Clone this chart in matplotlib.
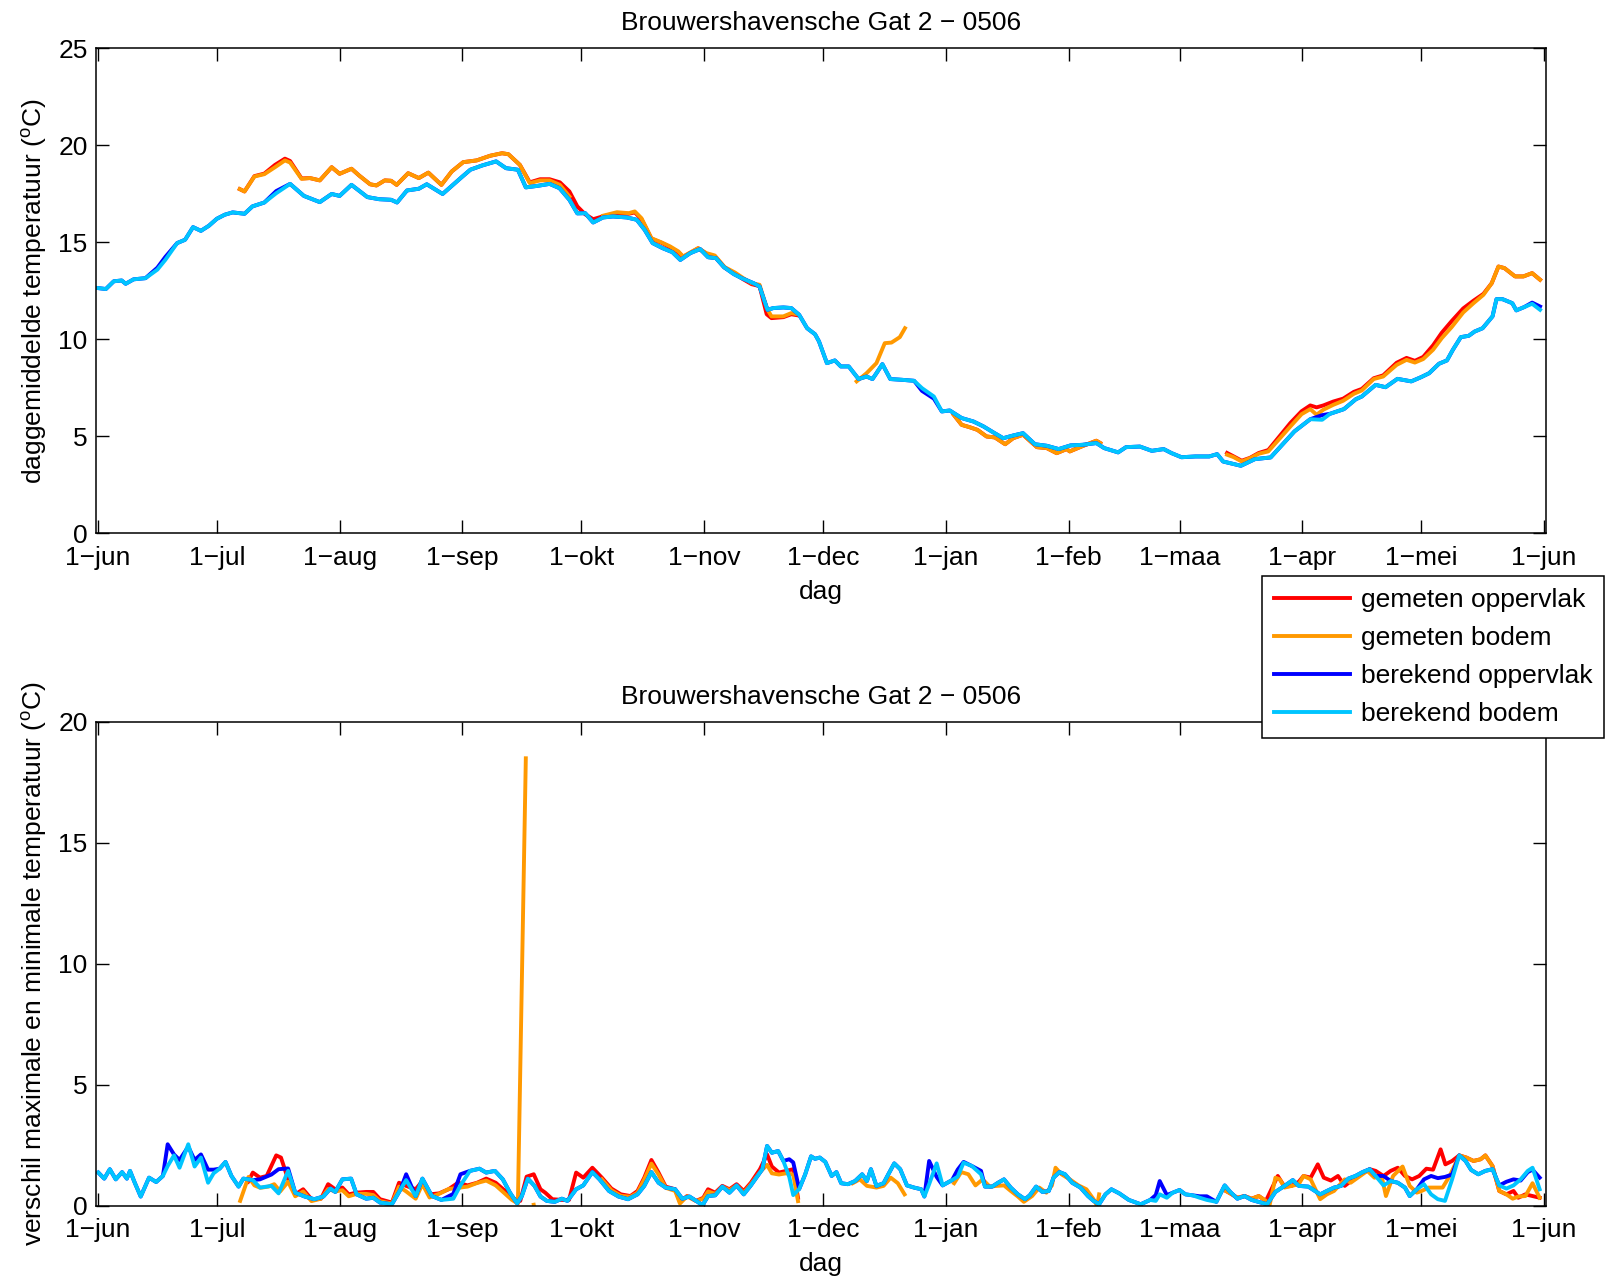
import matplotlib
matplotlib.use("Agg")
import matplotlib.pyplot as plt
import numpy as np
import pandas as pd

nan = np.nan

# ---- bovenste paneel: daggemiddelde temperatuur ----
# dagen na 1-jun-2005
dag_ber = [0, 2, 4, 6, 7, 9, 12, 15, 17, 20,
           22, 24, 26, 28, 30, 32, 34, 37, 39, 42,
           45, 48.5, 52, 56, 59, 61, 64, 68, 71, 74,
           75.5, 78, 81, 83, 87, 92, 94, 97, 100.5, 103,
           106, 108, 111, 114, 116.5, 119, 121, 123, 125, 127.5,
           130, 133.5, 136, 138, 140, 142.5, 145, 147, 149.5, 152,
           154, 156, 158, 160.5, 162.5, 165.5, 167, 169, 170.5, 173,
           175, 177, 179, 181, 182, 184, 186, 187.5, 189.5, 192,
           194, 195.5, 196.5, 198, 200, 203, 206, 208, 211, 213,
           215, 218, 221, 223.5, 226, 228.5, 231, 233.5, 236.5, 239.5,
           242.5, 245.5, 248.5, 252, 254, 257.5, 259.5, 263, 266, 269,
           271, 273.5, 277, 280.5, 282.5, 284, 286.5, 288.5, 292, 296,
           298.5, 302, 306, 309, 311, 314.5, 317.5, 319, 322.5, 325,
           328, 331.5, 334, 336, 338.5, 340.5, 342, 344, 346, 347.5,
           349.5, 352, 353, 354.5, 357, 358, 360, 362, 364]
ber_bodem = [12.65, 12.6, 13.0, 13.04, 12.87, 13.1, 13.16, 13.6, 14.1, 14.97,
             15.14, 15.79, 15.6, 15.86, 16.22, 16.43, 16.55, 16.48, 16.86, 17.06,
             17.54, 18.02, 17.4, 17.08, 17.5, 17.4, 17.97, 17.34, 17.23, 17.2,
             17.06, 17.68, 17.77, 18.0, 17.5, 18.4, 18.75, 18.97, 19.18, 18.83,
             18.75, 17.84, 17.92, 18.02, 17.8, 17.2, 16.5, 16.51, 16.03, 16.29,
             16.34, 16.29, 16.17, 15.65, 14.97, 14.71, 14.5, 14.1, 14.45, 14.66,
             14.24, 14.19, 13.73, 13.37, 13.16, 12.9, 12.73, 11.53, 11.62, 11.65,
             11.62, 11.27, 10.58, 10.27, 9.9, 8.78, 8.92, 8.61, 8.61, 7.96,
             8.09, 7.96, 8.26, 8.73, 7.96, 7.92, 7.87, 7.49, 7.06, 6.29,
             6.34, 5.95, 5.77, 5.52, 5.21, 4.91, 5.05, 5.17, 4.6, 4.52,
             4.35, 4.54, 4.57, 4.66, 4.4, 4.18, 4.45, 4.48, 4.26, 4.35,
             4.14, 3.93, 3.97, 3.97, 4.09, 3.71, 3.59, 3.49, 3.83, 3.92,
             4.48, 5.26, 5.89, 5.86, 6.17, 6.41, 6.92, 7.06, 7.66, 7.54,
             7.97, 7.84, 8.06, 8.26, 8.75, 8.92, 9.47, 10.12, 10.19, 10.41,
             10.58, 11.19, 12.08, 12.08, 11.87, 11.5, 11.67, 11.84, 11.53]
ber_opp = [12.65, 12.6, 13.0, 13.04, 12.87, 13.1, 13.16, 13.7, 14.25, 14.97,
           15.14, 15.79, 15.6, 15.86, 16.22, 16.43, 16.55, 16.48, 16.86, 17.06,
           17.65, 18.02, 17.4, 17.08, 17.5, 17.4, 17.97, 17.34, 17.23, 17.2,
           17.06, 17.68, 17.77, 18.0, 17.5, 18.4, 18.75, 18.97, 19.18, 18.83,
           18.75, 17.84, 17.92, 18.02, 17.8, 17.2, 16.5, 16.51, 16.03, 16.29,
           16.34, 16.29, 16.17, 15.65, 14.97, 14.71, 14.5, 14.1, 14.45, 14.66,
           14.24, 14.19, 13.73, 13.37, 13.16, 12.9, 12.73, 11.53, 11.62, 11.65,
           11.62, 11.27, 10.58, 10.27, 9.9, 8.78, 8.92, 8.61, 8.61, 7.96,
           8.09, 7.96, 8.26, 8.73, 7.96, 7.92, 7.87, 7.35, 6.95, 6.29,
           6.34, 5.95, 5.77, 5.52, 5.21, 4.91, 5.05, 5.17, 4.6, 4.52,
           4.35, 4.54, 4.57, 4.66, 4.4, 4.18, 4.45, 4.48, 4.26, 4.35,
           4.14, 3.93, 3.97, 3.97, 4.09, 3.71, 3.59, 3.49, 3.83, 3.92,
           4.48, 5.26, 5.89, 6.1, 6.17, 6.41, 6.92, 7.06, 7.66, 7.54,
           7.97, 7.84, 8.06, 8.26, 8.75, 8.92, 9.47, 10.12, 10.19, 10.41,
           10.58, 11.19, 12.08, 12.08, 11.87, 11.5, 11.67, 11.9, 11.7]

dag_gem = [35.8, 37, 39.5, 42, 44.7, 47.2, 48.5, 51.4, 53.5, 56,
           59, 61, 64, 66, 68.7, 70.3, 72.4, 74, 75.4, 78.3,
           81, 83.4, 86.7, 89.3, 92.2, 95.6, 99, 102, 103.6, 106.5,
           109, 111.6, 114, 116.6, 119, 121, 123, 125, 127.5, 131,
           134, 135.5, 137.2, 139.7, 142.3, 144.4, 146.5, 147.7, 151.5, 153.6,
           155.7, 158.2, 160.8, 162.9, 165, 167, 168.8, 170, 173, 175,
           176.5, 184, 191.5, 194, 196.5, 198.6, 200.3, 202.4, 203.7, 210,
           216, 218, 220, 222, 224.3, 226.4, 229, 231, 233.5, 237,
           239.5, 242, 244.5, 245.3, 248.7, 252, 253, 270, 285, 286.6,
           288.7, 290.8, 293, 295.4, 298.4, 301, 303.8, 306, 307.6, 309.3,
           311.8, 314.3, 317, 319, 322, 324.4, 327.8, 330.3, 332.4, 334.5,
           337, 339.2, 341.7, 344.6, 347.2, 349.7, 351.8, 353.5, 355, 357.7,
           359.8, 362, 364]
gem_bodem = [17.75, 17.63, 18.4, 18.52, 18.88, 19.23, 19.12, 18.28, 18.32, 18.2,
             18.88, 18.54, 18.8, 18.44, 18.0, 17.94, 18.2, 18.18, 17.97, 18.57,
             18.32, 18.6, 17.97, 18.66, 19.14, 19.23, 19.47, 19.6, 19.55, 19.0,
             18.06, 18.2, 18.2, 17.97, 17.37, nan, nan, nan, 16.38, 16.56,
             16.51, 16.6, 16.25, 15.22, 15.0, 14.8, 14.54, 14.28, 14.71, 14.45,
             14.33, 13.73, 13.45, 13.16, 12.9, 12.82, 11.62, 11.19, 11.19, 11.36,
             11.3, nan, 7.84, 8.26, 8.78, 9.81, 9.84, 10.12, 10.58, nan,
             6.12, 5.6, 5.48, 5.34, 5.0, 4.95, 4.6, 4.91, 5.09, 4.45,
             4.4, 4.14, 4.35, 4.23, 4.52, 4.78, 4.66, nan, 4.06, 3.94,
             3.71, 3.88, 4.11, 4.23, 4.92, 5.52, 6.15, 6.41, 6.12, 6.38,
             6.63, 6.84, 7.2, 7.37, 7.96, 8.09, 8.69, 8.95, 8.81, 8.99,
             9.47, 10.07, 10.64, 11.39, 11.87, 12.3, 12.9, 13.76, 13.68, 13.25,
             13.25, 13.42, 13.08]
gem_opp = [17.75, 17.63, 18.42, 18.55, 19.0, 19.32, 19.2, 18.3, 18.32, 18.2,
           18.88, 18.54, 18.8, 18.44, 18.0, 17.94, 18.2, 18.18, 17.97, 18.57,
           18.32, 18.6, 17.97, 18.66, 19.14, 19.23, 19.47, 19.6, 19.55, 19.0,
           18.1, 18.26, 18.26, 18.1, 17.63, 16.86, 16.45, 16.2, 16.35, 16.5,
           16.48, 16.55, 16.2, 15.2, 14.98, 14.75, 14.5, 14.25, 14.7, 14.42,
           14.28, 13.7, 13.4, 13.1, 12.85, 12.75, 11.3, 11.1, 11.15, 11.3,
           11.25, nan, nan, nan, nan, nan, nan, nan, nan, nan,
           6.12, 5.6, 5.48, 5.34, 5.0, 4.95, 4.6, 4.91, 5.09, 4.45,
           4.4, 4.14, 4.35, 4.23, 4.52, 4.78, 4.66, nan, 4.15, 3.98,
           3.75, 3.9, 4.15, 4.3, 5.05, 5.7, 6.3, 6.6, 6.5, 6.6,
           6.8, 6.95, 7.3, 7.45, 8.0, 8.15, 8.8, 9.05, 8.9, 9.1,
           9.7, 10.35, 10.95, 11.6, 12.0, 12.35, 12.9, 13.76, 13.68, 13.25,
           13.25, 13.42, 13.08]

# ---- onderste paneel: verschil max - min ----
dag_ber_v = [0.1, 1.6, 3, 4.5, 6.1, 7.3, 8.1, 9.3, 10.8, 12.9,
             14.7, 16.4, 17.6, 19.2, 20.6, 22.8, 24.4, 26, 27.8, 29.2,
             30.7, 32.2, 33.7, 35.5, 36.7, 39.1, 40.9, 43.8, 45.6, 48,
             49.8, 52.2, 54.6, 56.9, 58.7, 59.9, 61.7, 63.9, 65.3, 67.7,
             69.5, 71.2, 74.2, 76.4, 77.8, 80.2, 81.9, 84.3, 86.7, 89.7,
             91.5, 93.9, 96.3, 98, 100.2, 102.2, 104, 105.8, 107, 108.5,
             110.2, 111.7, 113.3, 115.3, 117.1, 118.5, 120.7, 122.5, 124.8, 126.6,
             129, 131.4, 133.8, 136.2, 137.9, 139.7, 141.5, 143.3, 145.7, 147.5,
             149.3, 151, 152.6, 154, 155.8, 157.6, 159.4, 161.2, 163, 164.8,
             166.5, 167.7, 168.9, 170.1, 171.7, 173, 174.5, 175.5, 177, 178.5,
             180, 181, 182.2, 183.6, 185.2, 186.4, 187.6, 189.3, 191.1, 192.9,
             194.1, 195.1, 196.5, 198.3, 199.5, 201, 202.5, 204.2, 206, 207.8,
             208.6, 209.8, 211.7, 213.2, 215.6, 217, 218.5, 220.6, 222.9, 223.9,
             225.7, 227.2, 228.7, 230.4, 232.2, 234, 235.2, 236.8, 238.4, 240,
             241.2, 242.7, 244.1, 245.9, 248, 249.9, 251.3, 252.7, 254.3, 255.8,
             257.8, 260.2, 263.2, 265.6, 267, 268, 269.8, 271.3, 273, 274.5,
             276.3, 278.1, 279.9, 282.3, 284.4, 285.8, 287.6, 289.4, 291.2, 293.6,
             295.1, 297.2, 299.5, 301.6, 303.1, 305.5, 308.5, 310.2, 312, 313.8,
             315.6, 317.4, 319.2, 321, 322.5, 324.5, 326.3, 328.1, 329.9, 331.1,
             332.9, 334.7, 336.5, 338.2, 340, 341.8, 343.6, 345.2, 346.6, 348.4,
             350.2, 352, 353.7, 355.5, 357.3, 359.1, 360.9, 362.1, 363.9]
v_ber_bodem = [1.38, 1.13, 1.52, 1.1, 1.4, 1.13, 1.45, 0.96, 0.39, 1.17,
               0.99, 1.24, 1.65, 2.09, 1.58, 2.55, 1.63, 2.0, 0.96, 1.35,
               1.54, 1.82, 1.24, 0.8, 1.13, 1.07, 0.76, 0.83, 0.52, 1.45,
               0.55, 0.39, 0.28, 0.39, 0.72, 0.58, 1.1, 1.13, 0.48, 0.3,
               0.34, 0.14, 0.07, 0.69, 1.07, 0.41, 1.13, 0.41, 0.25, 0.3,
               0.85, 1.45, 1.54, 1.38, 1.45, 1.1, 0.55, 0.11, 0.41, 1.13,
               0.83, 0.39, 0.21, 0.17, 0.3, 0.21, 0.69, 0.85, 1.4, 1.1,
               0.62, 0.39, 0.28, 0.48, 0.83, 1.4, 0.96, 0.76, 0.69, 0.3,
               0.39, 0.21, 0.03, 0.41, 0.44, 0.8, 0.55, 0.85, 0.48, 0.85,
               1.24, 1.52, 2.48, 2.2, 2.27, 1.86, 1.2, 0.45, 0.7, 1.3,
               2.05, 1.95, 2.0, 1.82, 1.24, 1.4, 0.94, 0.9, 1.03, 1.31,
               1.03, 1.52, 0.83, 0.94, 1.31, 1.76, 1.52, 0.85, 0.76, 0.69,
               0.39, 0.9, 1.76, 0.85, 1.07, 1.21, 1.79, 1.65, 1.31, 0.8,
               0.8, 0.96, 1.1, 0.76, 0.48, 0.28, 0.44, 0.8, 0.58, 0.62,
               1.17, 1.4, 1.31, 0.96, 0.76, 0.41, 0.21, 0.07, 0.48, 0.69,
               0.52, 0.25, 0.07, 0.25, 0.21, 0.48, 0.34, 0.55, 0.66, 0.48,
               0.44, 0.34, 0.25, 0.17, 0.85, 0.58, 0.3, 0.41, 0.25, 0.14,
               0.07, 0.58, 0.83, 1.07, 0.83, 0.8, 0.48, 0.62, 0.76, 0.83,
               1.13, 1.24, 1.4, 1.52, 1.24, 0.85, 1.03, 0.96, 0.76, 0.41,
               0.69, 0.9, 0.48, 0.28, 0.21, 1.1, 2.09, 1.86, 1.49, 1.31,
               1.45, 1.52, 0.85, 0.72, 0.85, 1.1, 1.45, 1.58, 0.69]
v_ber_opp = [1.38, 1.13, 1.52, 1.1, 1.4, 1.13, 1.45, 0.96, 0.39, 1.17,
             0.99, 1.24, 2.55, 2.13, 1.9, 2.45, 1.9, 2.13, 1.5, 1.5,
             1.54, 1.82, 1.24, 0.8, 1.13, 1.07, 1.1, 1.3, 1.52, 1.55,
             0.55, 0.39, 0.28, 0.39, 0.72, 0.58, 1.1, 1.13, 0.48, 0.3,
             0.34, 0.14, 0.07, 0.69, 1.31, 0.41, 1.13, 0.41, 0.25, 0.5,
             1.31, 1.45, 1.54, 1.38, 1.45, 1.1, 0.55, 0.11, 0.41, 1.13,
             0.83, 0.39, 0.21, 0.17, 0.3, 0.21, 0.69, 0.85, 1.4, 1.1,
             0.62, 0.39, 0.28, 0.48, 0.83, 1.4, 0.96, 0.76, 0.69, 0.3,
             0.39, 0.21, 0.03, 0.41, 0.44, 0.8, 0.55, 0.85, 0.48, 0.85,
             1.24, 1.52, 2.48, 2.2, 2.27, 1.86, 1.93, 1.8, 0.7, 1.3,
             2.05, 1.95, 2.0, 1.82, 1.24, 1.4, 0.94, 0.9, 1.03, 1.31,
             1.03, 1.52, 0.83, 0.94, 1.31, 1.76, 1.52, 0.85, 0.76, 0.69,
             0.39, 1.86, 1.2, 0.85, 1.07, 1.5, 1.82, 1.65, 1.45, 0.8,
             0.8, 0.96, 1.1, 0.76, 0.48, 0.28, 0.44, 0.8, 0.58, 0.62,
             1.17, 1.4, 1.31, 0.96, 0.76, 0.41, 0.21, 0.07, 0.48, 0.69,
             0.52, 0.25, 0.07, 0.25, 0.45, 1.03, 0.45, 0.55, 0.66, 0.48,
             0.44, 0.4, 0.4, 0.17, 0.85, 0.58, 0.3, 0.41, 0.25, 0.14,
             0.07, 0.58, 0.83, 1.07, 0.83, 0.8, 0.48, 0.62, 0.76, 0.83,
             1.13, 1.24, 1.4, 1.52, 1.24, 1.24, 1.03, 0.96, 0.76, 0.41,
             0.69, 1.1, 1.24, 1.15, 1.2, 1.3, 2.09, 1.86, 1.49, 1.31,
             1.45, 1.52, 0.85, 1.0, 1.1, 1.05, 1.4, 1.5, 1.17]

dag_gem_opp_v = [37.9, 39.1, 40.9, 42.6, 45, 46.2, 48, 49.8, 51.8, 53.9,
                 56.3, 58.1, 59.9, 61.7, 63.3, 65.3, 67.7, 69.5, 71.2, 74.2,
                 76, 77.8, 80.2, 81.9, 83.7, 86.1, 88.5, 90.9, 93.3, 95.7,
                 98, 100.4, 102.8, 105.2, 106.6, 108.2, 110, 111.7, 112.9, 114.7,
                 117.1, 118.9, 120.7, 122.5, 124.8, 127.2, 129.6, 132, 134.4, 136.2,
                 137.9, 139.7, 141.5, 143.3, 145.7, 146.9, 148.7, 151, 152.8, 154,
                 155.8, 157.6, 159.4, 161.2, 163, 164.8, 167.1, 168.9, 170.1, 171.9,
                 173.7, 175.5, 176.7, 230, 284.7, 285.8, 287.6, 289.4, 291.2, 293,
                 294.8, 297.8, 299.5, 301.3, 303.1, 304.3, 306.1, 307.9, 309.4, 311.2,
                 313, 314.7, 316.8, 318.6, 321, 322.5, 324.5, 326.3, 328.1, 329.9,
                 331.7, 333.5, 335.3, 337, 338.9, 340.1, 341.8, 343.6, 345.4, 347.2,
                 349, 350.2, 352, 353.7, 355.5, 357.3, 358.5, 360.3, 362.1, 363.9]
v_gem_opp = [1.0, 1.38, 1.17, 1.24, 2.09, 2.0, 1.1, 0.48, 0.69, 0.28,
             0.3, 0.9, 0.69, 0.76, 0.48, 0.55, 0.58, 0.58, 0.28, 0.14,
             0.96, 0.83, 0.69, 1.03, 0.48, 0.52, 0.69, 0.96, 0.85, 0.96,
             1.13, 0.96, 0.62, 0.28, 0.21, 1.21, 1.31, 0.69, 0.55, 0.28,
             0.25, 0.25, 1.38, 1.17, 1.58, 1.17, 0.72, 0.48, 0.41, 0.62,
             1.17, 1.9, 1.38, 0.8, 0.69, 0.17, 0.41, 0.21, 0.34, 0.69,
             0.55, 0.83, 0.69, 0.9, 0.62, 0.96, 1.52, 2.13, 1.63, 1.38,
             1.45, 1.52, 0.34, nan, 0.62, 0.52, 0.34, 0.41, 0.3, 0.41,
             0.21, 1.24, 0.8, 0.83, 1.0, 1.24, 1.17, 1.72, 1.17, 1.05,
             1.24, 0.83, 1.1, 1.31, 1.52, 1.45, 1.24, 1.45, 1.58, 1.24,
             1.1, 1.24, 1.54, 1.5, 2.34, 1.72, 1.86, 2.09, 2.0, 1.86,
             1.93, 2.09, 1.65, 0.62, 0.48, 0.62, 0.34, 0.48, 0.41, 0.34]

dag_gem_bodem_v = [35.9, 38, 39.5, 41, 43, 44.5, 46, 48, 49.8, 51.8,
                   53.9, 56.3, 58.1, 59.9, 61.7, 63.3, 65.3, 67.7, 69.5, 71.2,
                   74.2, 76, 77.8, 80.2, 81.9, 83.7, 86.1, 88.5, 90.9, 93.3,
                   95.7, 98, 100.4, 102.8, 104.5, 106, 108, 109, 110, 110.4,
                   118, 127.2, 129.6, 132, 134.4, 136.2, 137.9, 139.7, 141.5, 143.3,
                   145.7, 146.9, 148.7, 151, 152.8, 154, 155.8, 157.6, 159.4, 161.2,
                   163, 164.8, 167.1, 168.9, 170.1, 171.9, 173.7, 175.5, 176.7, 185,
                   190.5, 192.3, 194.1, 196.5, 198.3, 200.1, 201.9, 203.6, 210, 216.1,
                   217.9, 219.7, 221.5, 223.3, 225.1, 226.9, 228.7, 230.4, 232.2, 233.7,
                   235.8, 237.6, 239.4, 240.8, 241.7, 243.2, 245.3, 247.5, 249.5, 251.3,
                   252.2, 252.7, 270, 284.7, 285.8, 287.6, 289.4, 291.2, 293, 294.8,
                   295.6, 297.2, 298.3, 299.5, 301.3, 303.1, 304.3, 306.1, 308.5, 310.2,
                   312, 314.7, 316.2, 318, 320.4, 322.2, 324, 325.1, 326.9, 329.3,
                   331.1, 332.9, 334.1, 335.9, 337.7, 339.4, 341.2, 343.6, 345.4, 347.2,
                   349, 350.2, 352, 353.7, 355.5, 357.1, 358.5, 360.3, 362.1, 363.9]
v_gem_bodem = [0.21, 1.2, 0.85, 0.75, 0.8, 0.9, 0.6, 1.0, 0.4, 0.6,
               0.2, 0.3, 0.7, 0.6, 0.65, 0.4, 0.5, 0.5, 0.45, 0.2,
               0.1, 0.8, 0.6, 0.3, 0.9, 0.35, 0.5, 0.7, 0.75, 0.8,
               0.95, 1.05, 0.85, 0.5, 0.25, 0.1, 18.5, nan, 0.05, -0.3,
               nan, 1.1, 0.65, 0.42, 0.38, 0.55, 1.1, 1.75, 1.3, 0.75,
               0.62, 0.1, 0.4, 0.2, 0.3, 0.6, 0.5, 0.8, 0.65, 0.85,
               0.55, 0.9, 1.4, 1.7, 1.35, 1.3, 1.35, 1.3, 0.2, nan,
               0.94, 1.1, 0.83, 0.76, 0.83, 1.17, 0.94, 0.48, nan, 0.94,
               1.4, 1.31, 0.85, 1.1, 0.8, 0.83, 0.85, 0.62, 0.39, 0.17,
               0.41, 0.76, 0.55, 0.85, 1.58, 1.31, 1.1, 0.85, 0.69, 0.28,
               0.0, 0.48, nan, 0.62, 0.52, 0.34, 0.41, 0.3, 0.41, 0.21,
               -0.07, 1.17, 1.1, 0.76, 0.83, 0.9, 1.24, 1.1, 0.28, 0.48,
               0.62, 1.1, 0.96, 1.17, 1.45, 1.17, 1.24, 0.41, 1.24, 1.63,
               0.83, 0.55, 0.62, 0.76, 0.76, 0.76, 1.24, 2.09, 2.0, 1.86,
               1.93, 2.09, 1.65, 0.62, 0.48, 0.3, 0.39, 0.41, 0.94, 0.34]

maanden = ['jun', 'jul', 'aug', 'sep', 'okt', 'nov', 'dec',
           'jan', 'feb', 'maa', 'apr', 'mei', 'jun']
legend_labels = ['gemeten oppervlak', 'gemeten bodem',
                 'berekend oppervlak', 'berekend bodem']
kleuren = ['#ff0000', '#ff9900', '#0000ff', '#00c5ff']
titel = 'Brouwershavensche Gat 2 \u2212 0506'

start = pd.Timestamp('2005-06-01')


def to_dates(d):
    return start + pd.to_timedelta(np.asarray(d, dtype=float), unit='D')


FS = 19

plt.rcParams['font.family'] = ['Liberation Sans', 'DejaVu Sans']
plt.rcParams['mathtext.fontset'] = 'custom'
plt.rcParams['mathtext.rm'] = 'Liberation Sans'
plt.rcParams['font.size'] = FS

fig = plt.figure(figsize=(16.18, 12.79), dpi=100)
ax1 = fig.add_axes([0.0593, 0.5829, 0.8962, 0.3792])
ax2 = fig.add_axes([0.0593, 0.0571, 0.8962, 0.3784])

lw = 2.8
top_series = [(dag_gem, gem_opp), (dag_gem, gem_bodem),
              (dag_ber, ber_opp), (dag_ber, ber_bodem)]
bot_series = [(dag_gem_opp_v, v_gem_opp), (dag_gem_bodem_v, v_gem_bodem),
              (dag_ber_v, v_ber_opp), (dag_ber_v, v_ber_bodem)]

handles = []
for (d, v), c, lab in zip(top_series, kleuren, legend_labels):
    h, = ax1.plot(to_dates(d), v, color=c, lw=lw, label=lab)
    handles.append(h)
for (d, v), c in zip(bot_series, kleuren):
    ax2.plot(to_dates(d), v, color=c, lw=lw)

tick_dates = pd.date_range('2005-06-01', '2006-06-01', freq='MS')
tick_labels = ['1\u2212' + m for m in maanden]

for ax, ymax, ylab in [(ax1, 25, r'daggemiddelde temperatuur ($^{\rm o}$C)'),
                       (ax2, 20, r'verschil maximale en minimale temperatuur ($^{\rm o}$C)')]:
    ax.set_xlim(start - pd.Timedelta(hours=12), pd.Timestamp('2006-06-01') + pd.Timedelta(hours=12))
    ax.set_ylim(0, ymax)
    ax.set_yticks(np.arange(0, ymax + 1, 5))
    ax.set_xticks(tick_dates)
    ax.set_xticklabels(tick_labels)
    ax.tick_params(direction='in', length=9.5, width=1, top=True, right=True,
                   labelsize=FS)
    ax.tick_params(axis='x', pad=9)
    ax.tick_params(axis='y', pad=6)
    for s in ax.spines.values():
        s.set_linewidth(1.1)
    ax.set_title(titel, fontsize=FS, pad=13)
    ax.set_xlabel('dag', fontsize=FS, labelpad=7)
    ax.set_ylabel(ylab, fontsize=FS, labelpad=7)

fig.legend(handles=handles, loc='upper left', bbox_to_anchor=(0.780, 0.5497),
           frameon=True, fancybox=False, framealpha=1, edgecolor='black',
           fontsize=FS, handlelength=2.9, handletextpad=0.4,
           labelspacing=0.53, borderpad=0.45, borderaxespad=0)
fig.legends[0].get_frame().set_linewidth(1.1)

fig.savefig('out.png', dpi=100)
